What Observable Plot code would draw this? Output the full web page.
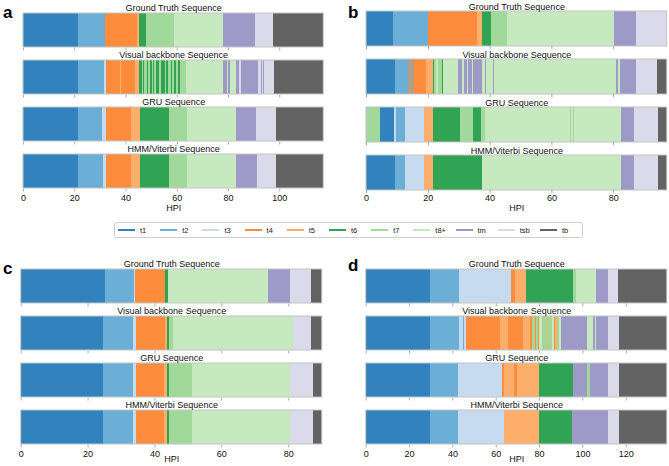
<!DOCTYPE html>
<html>
<head>
<meta charset="utf-8">
<script src="https://cdn.jsdelivr.net/npm/d3@7"></script>
<script src="https://cdn.jsdelivr.net/npm/@observablehq/plot@0.6"></script>
<style>
  html, body { margin: 0; padding: 0; background: #fff; }
  #root { position: relative; width: 669px; height: 466px; overflow: hidden; font-family: "Liberation Sans", Arial, sans-serif; }
  .panel { position: absolute; }
  .letter { position: absolute; font-weight: bold; font-size: 17px; line-height: 1; color: #000; }
  #legend { position: absolute; left: 114px; top: 222px; width: 469px; height: 16px; border: 1px solid #cfcfcf; border-radius: 2px; box-sizing: border-box; display: flex; align-items: center; padding-left: 3px; }
  .item { width: 42.6px; display: flex; align-items: center; font-size: 7.5px; color: #222; }
  .item .sw { width: 17px; height: 2px; margin-right: 5px; }
</style>
</head>
<body>
<div id="root"></div>
<script>
// ---------- data ----------
const stages = ["t1","t2","t3","t4","t5","t6","t7","t8+","tm","tsb","tb"];
const stageColors = ["#3182bd","#6baed6","#c6dbef","#fd8d3c","#fdae6b","#31a354","#a1d99b","#c7e9c0","#9e9ac8","#dadaeb","#636363"];
const rowNames = ["Ground Truth Sequence","Visual backbone Sequence","GRU Sequence","HMM/Viterbi Sequence"];

// each entry: [stage, end HPI]; start = previous end
const aGT  = [["t1",21.6],["t2",32.0],["t4",44.3],["t5",45.3],["t6",48.0],["t7",58.9],["t8+",77.9],["tm",90.5],["tsb",97.7],["tb",117.2]];
const aVis = [["t1",21.6],["t2",31.8],["t3",32.5],["t4",37.9],["t5",38.2],["t4",43.7],["t5",45.3],
  ["t6",46.3],["t7",46.9],["t6",47.3],["t7",48.2],["t6",48.6],["t7",49.5],["t6",50.2],["t4",50.4],["t7",50.9],["t6",51.3],
  ["t7",52.1],["t6",53.2],["t7",53.8],["t6",55.4],["t7",56.0],["t6",56.7],["t7",57.6],["t6",58.0],["t7",58.9],["t6",59.7],
  ["t7",60.6],["t6",61.3],["t7",63.5],["t8+",77.9],["tm",79.5],["t8+",80.2],["tm",80.9],["t8+",83.1],["tm",84.4],["tsb",84.9],
  ["tm",91.8],["tsb",92.7],["tm",93.1],["tsb",93.5],["tm",93.9],["tsb",97.9],["tb",117.2]];
const aGRU = [["t1",21.6],["t2",30.7],["t3",32.4],["t4",42.0],["t5",45.6],["t6",57.1],["t7",64.1],["t8+",83.1],["tm",90.9],["tsb",98.7],["tb",117.2]];
const aHMM = [["t1",21.6],["t2",31.3],["t3",32.4],["t4",42.0],["t5",45.6],["t6",57.1],["t7",64.1],["t8+",83.1],["tm",91.4],["tsb",98.7],["tb",117.2]];

const bGT  = [["t1",8.8],["t2",20.2],["t4",35.8],["t5",37.4],["t6",40.4],["t7",45.5],["t8+",80.3],["tm",87.5],["tsb",97.3]];
const bVis = [["t1",9.5],["t2",14.0],["t4",14.4],["t2",15.2],["t4",19.4],["t5",21.6],["t6",22.0],["t7",22.6],["t8+",23.2],["t7",24.6],
  ["t6",25.0],["t8+",29.9],["tm",31.0],["t8+",31.6],["tm",32.6],["t8+",33.1],["tm",34.2],["t8+",34.7],["tm",37.4],["t8+",38.4],
  ["tm",38.8],["t8+",41.0],["tm",41.4],["t8+",80.9],["tm",81.6],["t8+",82.1],["tm",87.5],["tsb",94.3],["tb",97.3]];
const bGRU = [["t7",4.5],["t1",9.2],["t3",9.7],["t2",12.6],["t3",18.9],["t5",21.6],["t6",30.5],["t7",34.5],["t6",37.2],["t7",38.4],
  ["t8+",66.0],["t7",66.4],["t8+",66.9],["t7",67.3],["t8+",82.4],["tm",86.7],["tsb",94.6],["tb",97.3]];
const bHMM = [["t1",9.4],["t2",12.6],["t3",18.9],["t5",21.6],["t6",37.4],["t8+",82.4],["tm",86.7],["tsb",94.6],["tb",97.3]];

const cGT  = [["t1",25.2],["t2",34.0],["t3",34.3],["t4",43.1],["t6",44.1],["t8+",74.0],["tm",80.5],["tsb",86.7],["tb",90.0]];
const cVis = [["t1",24.7],["t2",33.7],["t3",34.5],["t4",43.1],["t5",43.6],["t6",44.4],["t7",45.4],["t8+",81.5],["tsb",86.7],["tb",90.0]];
const cGRU = [["t1",24.7],["t2",33.7],["t3",34.5],["t4",42.8],["t5",43.6],["t6",44.2],["t7",51.2],["t8+",80.5],["tsb",87.3],["tb",90.0]];
const cHMM = [["t1",24.7],["t2",33.7],["t3",34.5],["t4",42.8],["t5",43.6],["t6",44.2],["t7",51.2],["t8+",80.5],["tsb",87.3],["tb",90.0]];

const dGT  = [["t1",29.8],["t2",43.1],["t3",67.1],["t4",68.9],["t5",74.2],["t6",95.8],["t7",96.9],["t8+",106.2],["tm",112.0],["tsb",116.3],["tb",138.9]];
const dVis = [["t1",29.8],["t2",43.1],["t3",44.9],["t2",45.4],["t3",46.5],["t4",62.0],["t5",65.8],["t4",72.7],["t5",75.8],["t4",76.9],
  ["t7",78.1],["t4",78.5],["t7",79.7],["t4",80.1],["t8+",81.2],["t7",83.5],["t5",84.3],["t7",85.8],["t8+",86.8],["t4",87.3],["t5",88.1],
  ["t7",89.2],["t8+",90.1],["tm",102.0],["t8+",105.1],["tm",105.6],["t8+",106.3],["tm",111.7],["tsb",116.9],["tb",138.9]];
const dGRU = [["t1",29.8],["t2",42.8],["t3",62.8],["t4",64.0],["t5",68.6],["t4",69.7],["t5",80.0],["t6",95.8],["tm",102.0],["t7",103.5],["tm",111.7],["tsb",116.9],["tb",138.9]];
const dHMM = [["t1",29.8],["t2",42.8],["t3",63.8],["t5",80.0],["t6",95.4],["tm",111.7],["tsb",116.9],["tb",138.9]];

const aTicks = [0,20,40,60,80,100];
const bTicks = [0,20,40,60,80];
const cTicks = [0,20,40,60,80];
const dTicks = [0,20,40,60,80,100,120];

// ---------- layout ----------
const panels = [
  {letter:"a", rows:[aGT,aVis,aGRU,aHMM], xmax:117.2, ticks:aTicks, left:0,   top:0,   width:335, height:222, ml:23,   mr:11.7, mt:10.7, mb:32.7, lx:3,   ly:4},
  {letter:"b", rows:[bGT,bVis,bGRU,bHMM], xmax:97.3,  ticks:bTicks, left:335, top:0,   width:334, height:222, ml:31,   mr:2.3,  mt:10.5, mb:32.7, lx:348, ly:4},
  {letter:"c", rows:[cGT,cVis,cGRU,cHMM], xmax:90.0,  ticks:cTicks, left:0,   top:240, width:335, height:226, ml:20.7, mr:13.3, mt:27.3, mb:20.3, lx:3,   ly:260},
  {letter:"d", rows:[dGT,dVis,dGRU,dHMM], xmax:138.9, ticks:dTicks, left:335, top:240, width:334, height:226, ml:30.7, mr:2.3,  mt:27.3, mb:20.3, lx:348, ly:257}
];
const pad = 0.277;
const font = '"Liberation Sans", Arial, sans-serif';

const root = document.getElementById("root");

function segmentsOf(rows) {
  const out = [];
  rows.forEach((row, i) => {
    let start = 0;
    for (const [stage, end] of row) {
      out.push({row: rowNames[i], stage, x1: start, x2: end});
      start = end;
    }
  });
  return out;
}

for (const p of panels) {
  const segs = segmentsOf(p.rows);
  const range = p.height - p.mt - p.mb;
  const step = range / (4 - pad);
  const bw = step * (1 - pad);
  const tickRows = [];
  for (const r of rowNames) for (const t of p.ticks) tickRows.push({row: r, x: t});

  const chart = Plot.plot({
    width: p.width, height: p.height,
    marginLeft: p.ml, marginRight: p.mr, marginTop: p.mt, marginBottom: p.mb,
    style: {fontFamily: font, fontSize: "9px", background: "transparent", color: "#111"},
    x: {domain: [0, p.xmax], ticks: p.ticks, tickSize: 0, tickPadding: 4.5, label: null},
    y: {domain: rowNames, axis: null, paddingInner: pad, paddingOuter: 0},
    color: {domain: stages, range: stageColors},
    marks: [
      Plot.barX(segs, {x1: "x1", x2: "x2", y: "row", fill: "stage", shapeRendering: "crispEdges"}),
      Plot.barX(rowNames, {x1: 0, x2: p.xmax, y: d => d, fill: "none", stroke: "#c4c4c4", strokeWidth: 1}),
      Plot.tickX(tickRows, {x: "x", y: "row", stroke: "#9a9a9a", strokeWidth: 0.8, insetTop: bw - 3.5, dy: 3.5}),
      Plot.text(rowNames, {x: p.xmax / 2, y: d => d, text: d => d, dy: -(bw / 2 + 5), fontSize: 9, fill: "#111"}),
      Plot.text(["HPI"], {x: p.xmax / 2, frameAnchor: "bottom", dy: p.top === 0 ? 21 : 15.5, text: d => d, fontSize: 9, fill: "#111"})
    ]
  });
  chart.classList.add("panel");
  chart.style.left = p.left + "px";
  chart.style.top = p.top + "px";
  root.appendChild(chart);

  const L = document.createElement("div");
  L.className = "letter";
  L.textContent = p.letter;
  L.style.left = p.lx + "px";
  L.style.top = p.ly + "px";
  root.appendChild(L);
}

// legend
const legend = document.createElement("div");
legend.id = "legend";
stages.forEach((s, i) => {
  const it = document.createElement("div");
  it.className = "item";
  const sw = document.createElement("span");
  sw.className = "sw";
  sw.style.background = stageColors[i];
  const lab = document.createElement("span");
  lab.textContent = s;
  it.appendChild(sw);
  it.appendChild(lab);
  legend.appendChild(it);
});
root.appendChild(legend);
</script>
</body>
</html>
